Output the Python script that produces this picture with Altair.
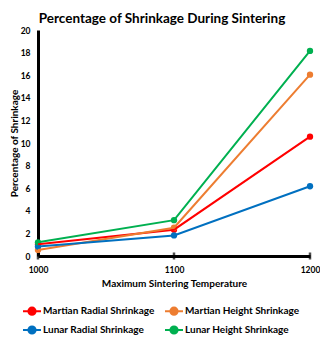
import altair as alt
import pandas as pd

temps = [1000, 1100, 1200]
series = ["Martian Radial Shrinkage", "Martian Height Shrinkage",
          "Lunar Radial Shrinkage", "Lunar Height Shrinkage"]
martian_radial = [1.04, 2.33, 10.56]
martian_height = [0.54, 2.50, 16.05]
lunar_radial = [0.84, 1.82, 6.17]
lunar_height = [1.21, 3.17, 18.15]
colors = ["#FF0000", "#ED7D31", "#0070C0", "#00B050"]
y_ticks = [0, 2, 4, 6, 8, 10, 12, 14, 16, 18, 20]

rows = []
for name, vals in zip(series, [martian_radial, martian_height, lunar_radial, lunar_height]):
    for t, v in zip(temps, vals):
        rows.append({"temp": t, "value": v, "series": name})
df = pd.DataFrame(rows)
ticks_df = pd.DataFrame({"temp": temps, "value": [0, 0, 0]})

# legend grid fills column by column, so interleave to read row by row
legend_order = [series[0], series[2], series[1], series[3]]
legend_colors = [colors[0], colors[2], colors[1], colors[3]]

FONT = "Lato"
sym = "M-1,0L1,0M-0.4,0A0.4,0.4,0,1,1,0.4,0A0.4,0.4,0,1,1,-0.4,0Z"

x_enc = alt.X("temp:Q", scale=alt.Scale(domain=[1000, 1200], nice=False, zero=False),
              axis=alt.Axis(values=temps, format="d", title="Maximum Sintering Temperature",
                            ticks=False, grid=False, domainWidth=3, domainColor="black",
                            labelPadding=9, titlePadding=5, labelFlush=False))
y_enc = alt.Y("value:Q", scale=alt.Scale(domain=[0, 20], nice=False),
              axis=alt.Axis(values=y_ticks, title="Percentage of Shrinkage",
                            ticks=False, grid=False, domainWidth=3, domainColor="black",
                            labelPadding=8, titlePadding=1, labelOverlap=False))

color_enc = alt.Color("series:N", sort=legend_order,
                      scale=alt.Scale(domain=legend_order, range=legend_colors),
                      legend=alt.Legend(title=None, orient="none", legendX=-16, legendY=271,
                                        columns=2, columnPadding=6, rowPadding=1,
                                        symbolType=sym, symbolSize=324, symbolStrokeWidth=2,
                                        labelFont=FONT, labelFontSize=10, labelFontWeight="bold",
                                        labelColor="#000000", labelOffset=1, padding=0))

base = alt.Chart(df).encode(x=x_enc, y=y_enc, color=color_enc, order=alt.Order("temp:Q"))
pts = base.mark_point(filled=True, size=40, opacity=1)
lines = base.mark_line(strokeWidth=2)

tick_marks = alt.Chart(ticks_df).mark_tick(
    orient="vertical", size=7, thickness=2.5, color="black"
).encode(x=x_enc, y=y_enc)

chart = alt.layer(tick_marks, pts, lines).properties(
    width=272, height=226,
    title=alt.TitleParams("Percentage of Shrinkage During Sintering", font=FONT,
                          fontSize=13.5, fontWeight="bold", color="#000000",
                          anchor="middle", offset=1, dx=-12),
    autosize=alt.AutoSizeParams(type="none"),
    padding={"left": 30, "top": 22, "right": 10, "bottom": 80},
).configure_view(stroke=None).configure_axis(
    labelFont=FONT, labelFontSize=8.5, labelFontWeight="bold", labelColor="#000000",
    titleFont=FONT, titleFontSize=10, titleFontWeight="bold", titleColor="#000000",
)

chart.save("out.html", embed_options={"renderer": "svg", "actions": False})
